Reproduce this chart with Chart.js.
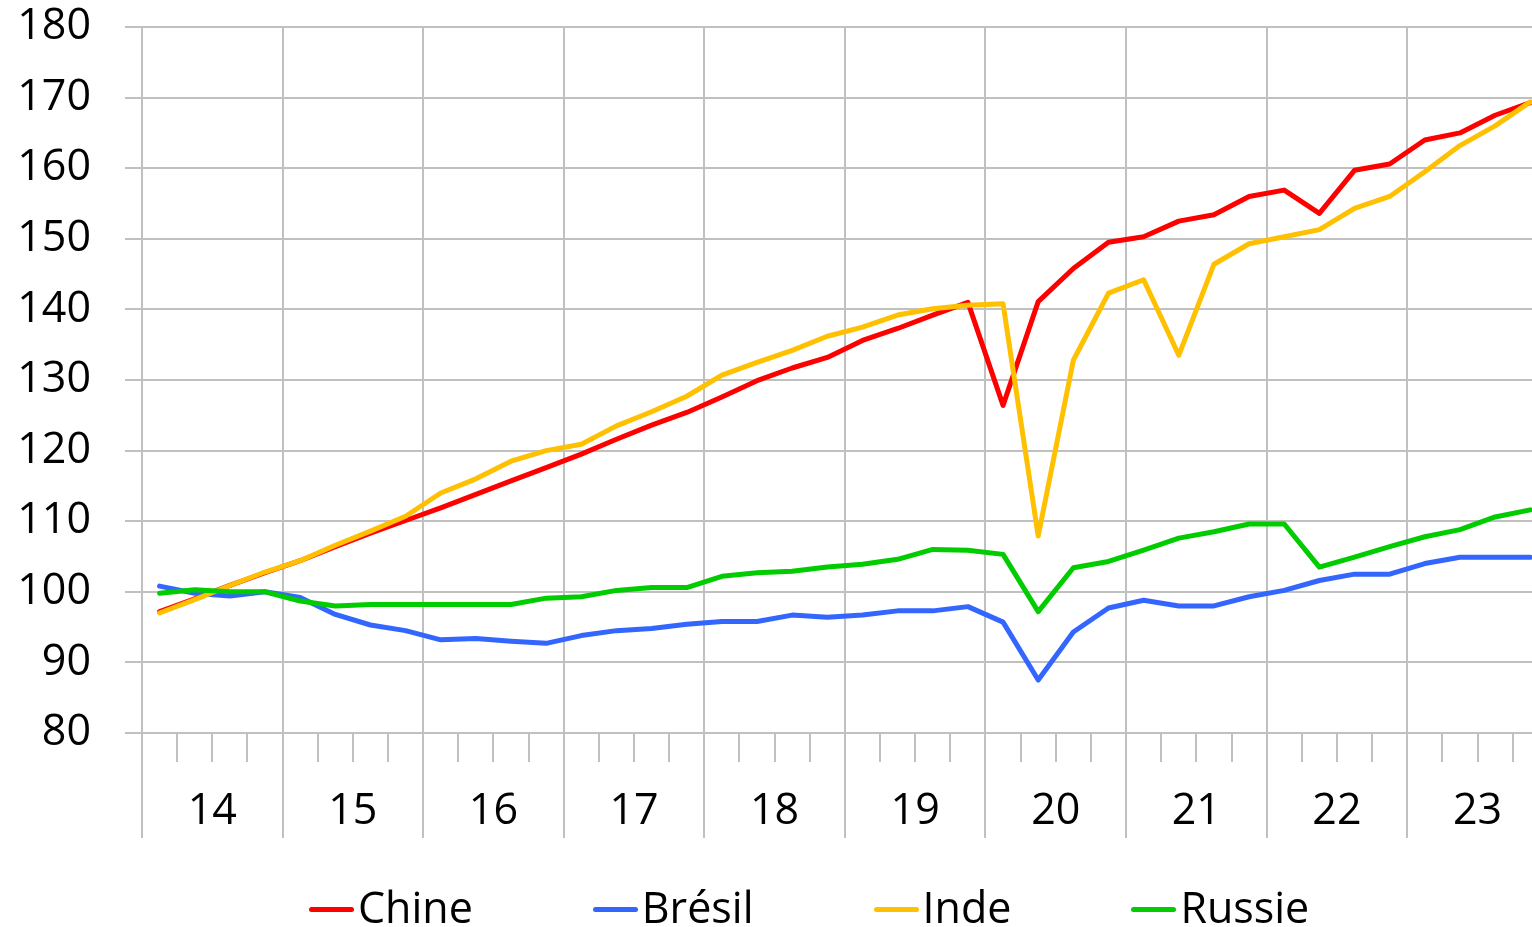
<!DOCTYPE html>
<html lang="fr">
<head>
<meta charset="utf-8">
<title>PIB trimestriel - BRIC</title>
<script src="https://cdn.jsdelivr.net/npm/chart.js@4.4.1/dist/chart.umd.min.js"></script>
<style>
  html, body { margin: 0; padding: 0; background: #fff; overflow: hidden; }
  #wrap { position: relative; width: 1532px; height: 927px; }
  #legend {
    position: absolute; left: 309px; top: 885px;
    display: flex; gap: 120px;
    font-family: "Open Sans", sans-serif; font-size: 43px; line-height: 43px; color: #000;
  }
  .item { display: flex; align-items: center; white-space: nowrap; }
  .swatch { display: inline-block; width: 45px; height: 5px; border-radius: 3px; margin-right: 4px; position: relative; top: 3px; }
</style>
</head>
<body>
<div id="wrap">
  <canvas id="chart" width="1532" height="927"></canvas>
  <div id="legend"></div>
</div>
<script>
// années (un groupe de 4 trimestres chacune), 2014T1 -> 2023T4
const YEARS = ["14", "15", "16", "17", "18", "19", "20", "21", "22", "23"];
const Y_MIN = 80, Y_MAX = 180, Y_STEP = 10;

const CHINE = [97.2, 99.0, 100.9, 102.7, 104.4, 106.4, 108.3, 110.1, 111.9, 113.8,
  115.7, 117.6, 119.5, 121.6, 123.6, 125.4, 127.6, 129.9, 131.7, 133.2,
  135.6, 137.3, 139.2, 141.0, 126.4, 141.1, 145.8, 149.5, 150.3, 152.5,
  153.4, 156.0, 156.9, 153.6, 159.7, 160.6, 164.0, 165.0, 167.5, 169.3];
const BRESIL = [100.8, 99.8, 99.4, 100.0, 99.2, 96.8, 95.3, 94.5, 93.2, 93.4,
  93.0, 92.7, 93.8, 94.5, 94.8, 95.4, 95.8, 95.8, 96.7, 96.4,
  96.7, 97.3, 97.3, 97.9, 95.7, 87.5, 94.3, 97.7, 98.8, 98.0,
  98.0, 99.3, 100.2, 101.6, 102.5, 102.5, 104.0, 104.9, 104.9, 104.9];
const INDE = [97.0, 98.9, 100.9, 102.8, 104.4, 106.6, 108.6, 110.7, 114.0, 116.0,
  118.5, 120.0, 120.9, 123.5, 125.5, 127.7, 130.7, 132.5, 134.2, 136.2,
  137.5, 139.2, 140.1, 140.6, 140.8, 107.9, 132.8, 142.3, 144.2, 133.5,
  146.4, 149.3, 150.3, 151.3, 154.3, 156.0, 159.5, 163.2, 166.0, 169.4];
const RUSSIE = [99.8, 100.3, 100.0, 100.0, 98.7, 98.0, 98.2, 98.2, 98.2, 98.2,
  98.2, 99.1, 99.3, 100.2, 100.6, 100.6, 102.2, 102.7, 102.9, 103.5,
  103.9, 104.6, 106.0, 105.9, 105.3, 97.2, 103.4, 104.3, 105.9, 107.6,
  108.5, 109.6, 109.6, 103.5, 104.9, 106.4, 107.8, 108.8, 110.6, 111.6];

const GRID = "#c0c0c0";
const FONT = "'Open Sans', sans-serif";

// un point par trimestre, au milieu du trimestre
const toPoints = (arr) => arr.map((v, i) => ({ x: i + 0.5, y: v }));

const serie = (label, data, color, order) => ({
  label,
  data: toPoints(data),
  borderColor: color,
  backgroundColor: color,
  borderWidth: 5,
  borderJoinStyle: "round",
  borderCapStyle: "round",
  pointRadius: 0,
  tension: 0,
  order, // Excel dessine la dernière série au-dessus
});

// prolonge les traits des années sous l'axe
const yearLines = {
  id: "yearLines",
  afterDraw(chart) {
    const { ctx, chartArea, scales } = chart;
    ctx.save();
    ctx.strokeStyle = GRID;
    ctx.lineWidth = 2;
    for (let k = 0; k < YEARS.length; k++) {
      const x = Math.round(scales.x.getPixelForValue(k * 4));
      ctx.beginPath();
      ctx.moveTo(x, chartArea.bottom);
      ctx.lineTo(x, chartArea.bottom + 105);
      ctx.stroke();
    }
    ctx.restore();
  },
};

const chart = new Chart(document.getElementById("chart"), {
  type: "line",
  data: {
    datasets: [
      serie("Chine", CHINE, "#ff0000", 3),
      serie("Brésil", BRESIL, "#3366ff", 2),
      serie("Inde", INDE, "#ffc000", 1),
      serie("Russie", RUSSIE, "#00cc00", 0),
    ],
  },
  options: {
    responsive: false,
    animation: false,
    devicePixelRatio: 1,
    layout: { padding: { top: 27, right: 0, bottom: 0, left: 0 } },
    plugins: { legend: { display: false }, tooltip: { enabled: false } },
    scales: {
      x: {
        type: "linear",
        min: 0,
        max: 39.55,
        border: { display: false },
        afterFit: (s) => {
          s.height = 194;
          s.paddingLeft = 0;
          s.paddingRight = 0;
        },
        grid: {
          color: (c) => (c.tick && c.tick.value % 4 === 0 ? GRID : "rgba(0,0,0,0)"),
          tickColor: GRID,
          lineWidth: 2,
          tickLength: 29,
        },
        ticks: {
          stepSize: 1,
          autoSkip: false,
          includeBounds: false,
          maxRotation: 0,
          minRotation: 0,
          padding: 24,
          color: "#000",
          font: { family: FONT, size: 43 },
          callback: (v) => (v % 4 === 2 ? YEARS[Math.floor(v / 4)] : ""),
        },
      },
      y: {
        min: Y_MIN,
        max: Y_MAX,
        border: { display: false },
        afterFit: (s) => {
          s.width = 142;
          s.paddingTop = 0;
          s.paddingBottom = 0;
        },
        grid: { color: GRID, lineWidth: 2, tickLength: 17 },
        ticks: {
          stepSize: Y_STEP,
          padding: 34,
          color: "#000",
          font: { family: FONT, size: 43 },
        },
      },
    },
  },
  plugins: [yearLines],
});

// légende HTML : trait + libellé, dans l'ordre des séries
const legendEl = document.getElementById("legend");
chart.data.datasets.forEach((ds) => {
  const item = document.createElement("div");
  item.className = "item";
  const sw = document.createElement("span");
  sw.className = "swatch";
  sw.style.background = ds.borderColor;
  item.appendChild(sw);
  item.appendChild(document.createTextNode(ds.label));
  legendEl.appendChild(item);
});
</script>
</body>
</html>
